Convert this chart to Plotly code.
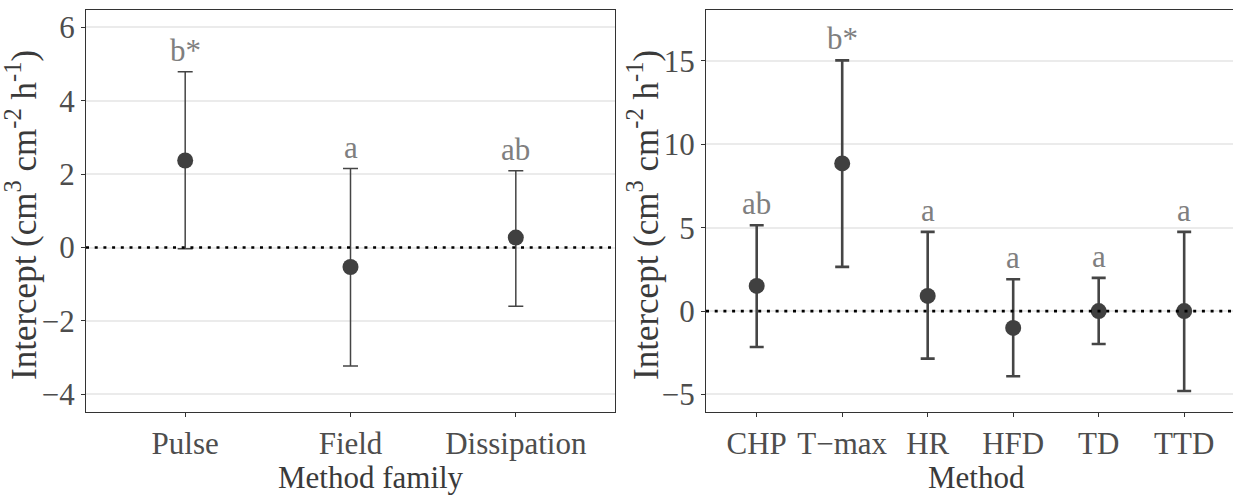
import plotly.graph_objects as go

# Intercept estimates by method family
family = ["Pulse", "Field", "Dissipation"]
family_est = [2.37, -0.53, 0.27]
family_lo = [-0.03, -3.23, -1.60]
family_hi = [4.79, 2.15, 2.09]
family_letters = ["b*", "a", "ab"]

# Intercept estimates by individual method
method = ["CHP", "T\u2212max", "HR", "HFD", "TD", "TTD"]
method_est = [1.51, 8.85, 0.91, -1.01, 0.0, 0.0]
method_lo = [-2.15, 2.65, -2.85, -3.91, -1.97, -4.79]
method_hi = [5.15, 15.03, 4.75, 1.91, 1.99, 4.75]
method_letters = ["ab", "b*", "a", "a", "a", "a"]

W, H = 1233, 497
M_TOP, M_BOT = 10, 85
PLOT_H = H - M_TOP - M_BOT
FONT = "Liberation Serif"
TICK_COL = "#4D4D4D"
TITLE_COL = "#3A3A3A"
MARK_COL = "#404040"
LETTER_COL = "#7F7F7F"


def paper_y(py):
    """Convert a pixel row of the page to paper y."""
    return (H - M_BOT - py) / PLOT_H


fig = go.Figure()


def add_panel(cats, est, lo, hi, xa, ya, lw, cap):
    fig.add_trace(go.Scatter(
        x=cats, y=est, mode="markers",
        xaxis=xa, yaxis=ya,
        marker=dict(size=16, color=MARK_COL),
        error_y=dict(
            type="data", symmetric=False,
            array=[h - e for h, e in zip(hi, est)],
            arrayminus=[e - l for e, l in zip(est, lo)],
            color="#454545", thickness=lw, width=cap,
        ),
        showlegend=False, hoverinfo="skip",
    ))


add_panel(family, family_est, family_lo, family_hi, "x", "y", 1.5, 7.5)
add_panel(method, method_est, method_lo, method_hi, "x2", "y2", 2.6, 7)

axis_common = dict(
    showline=True, mirror=True, linecolor="#333333", linewidth=1.3,
    ticks="outside", ticklen=4, tickwidth=1.3, tickcolor="#333333",
    tickfont=dict(family=FONT, size=31, color=TICK_COL),
    zeroline=False,
)

fig.update_layout(
    width=W, height=H,
    margin=dict(l=0, r=0, t=M_TOP, b=M_BOT),
    paper_bgcolor="white", plot_bgcolor="white",
    xaxis=dict(domain=[86 / W, 615 / W], anchor="y", type="category",
               range=[-0.6, 2.6], showgrid=False, **axis_common),
    yaxis=dict(domain=[0, 1], anchor="x", range=[-4.48, 6.47],
               tickvals=[-4, -2, 0, 2, 4, 6], showgrid=True,
               gridcolor="#EBEBEB", gridwidth=1.8, **axis_common),
    xaxis2=dict(domain=[706 / W, 1], anchor="y2", type="category",
                range=[-0.593, 5.571], showgrid=False, **axis_common),
    yaxis2=dict(domain=[0, 1], anchor="x2", range=[-6.05, 18.05],
                tickvals=[-5, 0, 5, 10, 15], showgrid=True,
                gridcolor="#EBEBEB", gridwidth=1.8, **axis_common),
)

# dotted reference line at zero in both panels
for xa, ya in (("x", "y"), ("x2", "y2")):
    fig.add_shape(type="line", xref=f"{xa} domain", yref=ya,
                  x0=0, x1=1, y0=0, y1=0, layer="above",
                  line=dict(color="black", width=2.6, dash="3px,5.7px"))

# significance letters above each upper error bar
annotations = []
for cats, hi, letters, xa, ya in (
    (family, family_hi, family_letters, "x", "y"),
    (method, method_hi, method_letters, "x2", "y2"),
):
    for c, h, t in zip(cats, hi, letters):
        annotations.append(dict(
            x=c, y=h, xref=xa, yref=ya, text=t, showarrow=False,
            xanchor="center", yanchor="bottom", yshift=2,
            font=dict(family=FONT, size=31, color=LETTER_COL),
        ))

ytitle = "Intercept (cm<sup>3</sup> cm<sup>-2</sup> h<sup>-1</sup>)"
for px_x in (22, 644):
    annotations.append(dict(
        x=px_x / W, y=paper_y(215), xref="paper", yref="paper",
        text=ytitle, textangle=-90, showarrow=False,
        xanchor="center", yanchor="middle",
        font=dict(family=FONT, size=35, color=TITLE_COL),
    ))

for label, cx in (("Method family", 371), ("Method", 976)):
    annotations.append(dict(
        x=cx / W, y=paper_y(477), xref="paper", yref="paper",
        text=label, showarrow=False, xanchor="center", yanchor="middle",
        font=dict(family=FONT, size=31, color=TITLE_COL),
    ))

fig.update_layout(annotations=annotations)

fig.write_html("out.html")
